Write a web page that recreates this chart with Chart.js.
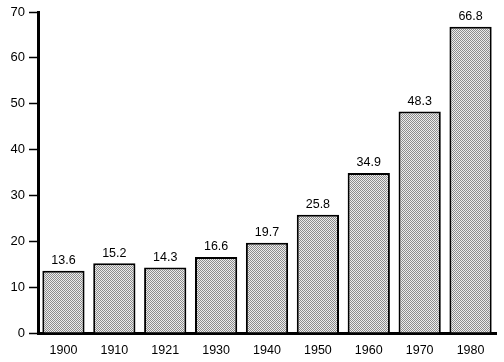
<!DOCTYPE html>
<html>
<head>
<meta charset="utf-8">
<script src="https://cdn.jsdelivr.net/npm/chart.js@4.4.1/dist/chart.umd.min.js"></script>
<style>
  html, body { margin: 0; padding: 0; background: #fff; }
  #wrap { width: 504px; height: 362px; position: relative; }
</style>
</head>
<body>
<div id="wrap"><canvas id="chart"></canvas></div>
<script>
// values
const YEARS = ["1900", "1910", "1921", "1930", "1940", "1950", "1960", "1970", "1980"];
const VALUES = [13.6, 15.2, 14.3, 16.6, 19.7, 25.8, 34.9, 48.3, 66.8];
const Y_MIN = 0;
const Y_MAX = 70;
const Y_STEP = 10;

const FONT = "'Liberation Sans', Arial, sans-serif";

// fine checker stipple, close to the printed halftone
function stipple() {
  const c = document.createElement("canvas");
  c.width = 2;
  c.height = 2;
  const g = c.getContext("2d");
  g.fillStyle = "#ececec";
  g.fillRect(0, 0, 2, 2);
  g.fillStyle = "#8c8c8c";
  g.fillRect(0, 0, 1, 1);
  g.fillRect(1, 1, 1, 1);
  return g.createPattern(c, "repeat");
}

const valueLabels = {
  id: "valueLabels",
  afterDatasetsDraw(chart) {
    const ctx = chart.ctx;
    const meta = chart.getDatasetMeta(0);
    ctx.save();
    ctx.fillStyle = "#000";
    ctx.font = "12.5px " + FONT;
    ctx.textAlign = "center";
    ctx.textBaseline = "bottom";
    meta.data.forEach((bar, i) => {
      ctx.fillText(VALUES[i].toFixed(1), bar.x, bar.y - 4);
    });
    ctx.restore();
  },
};

new Chart(document.getElementById("chart"), {
  type: "bar",
  data: {
    labels: YEARS,
    datasets: [
      {
        data: VALUES,
        backgroundColor: stipple(),
        borderColor: "#000",
        borderWidth: 2,
        borderSkipped: "bottom",
        barPercentage: 0.83,
        categoryPercentage: 1,
      },
    ],
  },
  options: {
    responsive: true,
    maintainAspectRatio: false,
    animation: false,
    layout: { padding: { top: 12, right: 8, bottom: 0, left: 0 } },
    plugins: { legend: { display: false }, tooltip: { enabled: false } },
    scales: {
      x: {
        grid: { display: false, drawTicks: false },
        border: { display: true, color: "#000", width: 3 },
        ticks: {
          color: "#000",
          padding: 10,
          maxRotation: 0,
          font: { family: FONT, size: 12.5 },
        },
        afterFit: (s) => { s.height = 29; },
      },
      y: {
        min: Y_MIN,
        max: Y_MAX,
        grid: { drawOnChartArea: false, drawTicks: true, tickLength: 9, tickColor: "#000", tickWidth: 1.5 },
        border: { display: true, color: "#000", width: 3 },
        ticks: {
          stepSize: Y_STEP,
          color: "#000",
          padding: 4,
          font: { family: FONT, size: 13 },
        },
        afterFit: (s) => { s.width = 38; },
      },
    },
  },
  plugins: [valueLabels],
});
</script>
</body>
</html>
